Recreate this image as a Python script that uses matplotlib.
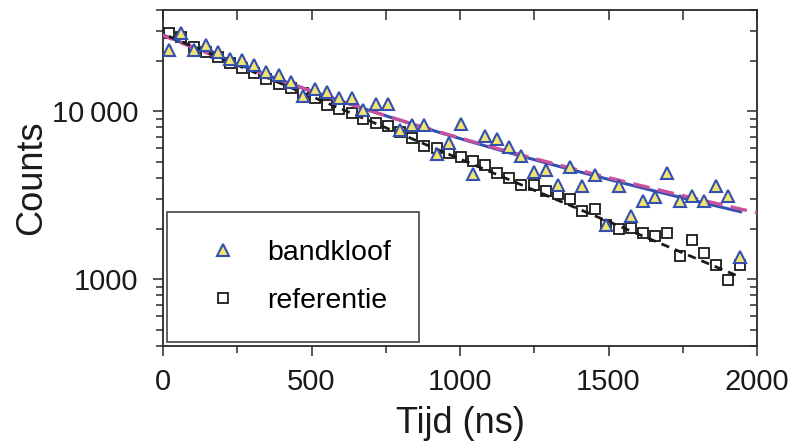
import matplotlib.pyplot as plt
import numpy as np
from matplotlib.ticker import FixedLocator, FuncFormatter, LogLocator, NullFormatter, MultipleLocator

plt.rcParams['font.family'] = ['Liberation Sans', 'DejaVu Sans']

# time bins (ns)
t_ns = [21, 62, 103, 144, 185, 226, 266, 307, 348, 389, 430, 471, 512, 553, 594, 635,
        675, 716, 757, 798, 839, 880, 921, 962, 1003, 1044, 1084, 1125, 1166, 1207, 1248, 1289,
        1330, 1371, 1412, 1453, 1493, 1534, 1575, 1616, 1657, 1698, 1739, 1780, 1821, 1862,
        1902, 1943]

bandkloof = [23200, 29200, 23200, 24600, 22400, 20500, 20200, 18700, 17200, 16300, 14900, 12300,
             13600, 13000, 11900, 12000, 10100, 10950, 10950, 7720, 8260, 8260, 5530, 6440,
             8430, 4240, 7110, 6830, 6150, 5370, 4330, 4490, 3650, 4620, 3600, 4180,
             2090, 3570, 2390, 2930, 3090, 4310, 2910, 3140, 2930, 3600, 3110, 1360]

referentie = [29050, 27780, 23920, 22340, 20880, 19410, 18030, 16790, 15460, 14410, 13770, 12780,
              11990, 10890, 10350, 9800, 8940, 8550, 8150, 7510, 6920, 6180, 6040, 5620,
              5330, 5060, 4790, 4300, 4010, 3650, 3640, 3360, 3200, 2990, 2530, 2600,
              2090, 1990, 2020, 1890, 1800, 1870, 1370, 1720, 1440, 1210, 986, 1210]

# fit parameters (estimated from the drawn curves)
fit_blue_A = [16794, 11606]
fit_blue_tau = [450, 1200]
fit_pink_A = [16300, 11900]
fit_pink_tau = [440, 1220]
fit_ref_A, fit_ref_tau = 28840, 583


def biexp(t, A, tau):
    return A[0] * np.exp(-t / tau[0]) + A[1] * np.exp(-t / tau[1])


fig = plt.figure(figsize=(8.05, 4.45), dpi=100)
ax = fig.add_axes([0.2025, 0.2225, 0.7379, 0.7551])

blue = '#3350b0'
pink = '#c9509c'
yellow = '#f2e470'

ax.plot(t_ns, referentie, 's', ms=6.8, mfc='none', mec='#1a1a1a', mew=1.3, zorder=2,
        label='referentie')

tb = np.linspace(0, 1945, 300)
ax.plot(tb, biexp(tb, fit_blue_A, fit_blue_tau), color=blue, lw=2.2, zorder=3)
tp = np.linspace(-20, 2050, 300)
ax.plot(tp, biexp(tp, fit_pink_A, fit_pink_tau), color=pink, lw=2.4, ls=(0, (5, 2.5)), zorder=3)
tm = np.linspace(20, 1945, 200)
ax.plot(tm, fit_ref_A * np.exp(-tm / fit_ref_tau), color='#1a1a1a', lw=2.0, ls=(0, (3, 2.2)),
        zorder=3)

ax.plot(t_ns, bandkloof, '^', ms=8.5, mfc=yellow, mec=blue, mew=1.5, zorder=4,
        label='bandkloof')

ax.set_yscale('log')
ax.set_xlim(0, 2000)
ax.set_ylim(400, 40000)

ax.xaxis.set_major_locator(MultipleLocator(500))
ax.xaxis.set_minor_locator(MultipleLocator(250))
ax.yaxis.set_major_locator(FixedLocator([1000, 10000]))
ax.yaxis.set_minor_locator(LogLocator(base=10, subs=np.arange(2, 10)))
ax.yaxis.set_minor_formatter(NullFormatter())
ax.yaxis.set_major_formatter(FuncFormatter(
    lambda v, p: '10\u2009000' if v >= 10000 else f'{v:.0f}'))

for s in ax.spines.values():
    s.set_color('#2a2a2a')
    s.set_linewidth(1.3)

ax.tick_params(axis='both', which='both', direction='out', colors='#2a2a2a', width=1.1,
               labelsize=21, labelcolor='#1a1a1a')
ax.tick_params(axis='both', which='major', length=7)
ax.tick_params(axis='both', which='minor', length=5)
ax.tick_params(axis='y', pad=11)
ax.tick_params(axis='x', pad=9)

# inward ticks on top and right
top = ax.secondary_xaxis('top')
top.xaxis.set_major_locator(MultipleLocator(250))
top.tick_params(direction='in', length=7, width=1.1, colors='#2a2a2a', labeltop=False)
right = ax.secondary_yaxis('right')
right.yaxis.set_major_locator(FixedLocator([1000, 10000]))
right.yaxis.set_minor_locator(LogLocator(base=10, subs=np.arange(2, 10)))
right.tick_params(which='both', direction='in', width=1.1, colors='#2a2a2a',
                  labelright=False)
right.tick_params(which='major', length=7)
right.tick_params(which='minor', length=5)
for sec in (top, right):
    for s in sec.spines.values():
        s.set_visible(False)

ax.set_xlabel('Tijd (ns)', fontsize=26, labelpad=7, color='#1a1a1a')
ax.set_ylabel('Counts', fontsize=26, labelpad=2, color='#1a1a1a')

h, l = ax.get_legend_handles_labels()
leg = ax.legend(h[::-1], l[::-1], loc='lower left', bbox_to_anchor=(0.007, 0.011),
                fontsize=20.5, frameon=True, fancybox=False, borderpad=1.0,
                labelspacing=0.76, handlelength=1.9, handletextpad=0.6,
                borderaxespad=0)
leg.get_frame().set_edgecolor('#2a2a2a')
leg.get_frame().set_linewidth(1.3)

fig.savefig('out.png', dpi=100)
